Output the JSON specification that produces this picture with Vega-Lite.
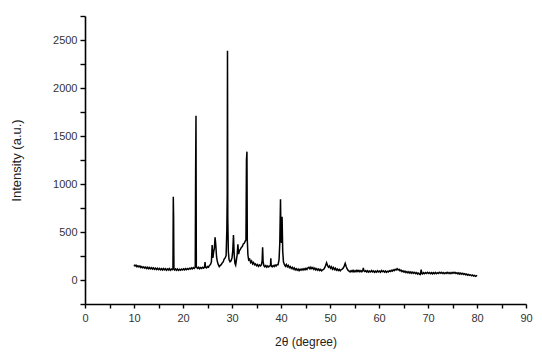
{
  "$schema": "https://vega.github.io/schema/vega-lite/v6.json",
  "width": 441,
  "height": 288,
  "autosize": "none",
  "padding": {"left": 85, "top": 16, "right": 16, "bottom": 53},
  "background": "white",
  "config": {
    "view": {"stroke": null},
    "font": "Liberation Sans",
    "axis": {
      "grid": false,
      "domainColor": "#000000",
      "domainWidth": 1.6,
      "tickColor": "#000000",
      "tickWidth": 1.4,
      "labelColor": "#333333",
      "labelFont": "Liberation Sans",
      "titleFont": "Liberation Sans",
      "titleColor": "#222222",
      "titleFontWeight": "normal"
    }
  },
  "data": {
    "values": [
      {"x":10.0,"y":158},{"x":10.2,"y":146},{"x":10.4,"y":154},{"x":10.6,"y":138},{"x":10.8,"y":148},{"x":11.0,"y":136},{"x":11.2,"y":146},{"x":11.4,"y":130},{"x":11.6,"y":140},{"x":11.8,"y":126},
      {"x":12.0,"y":137},{"x":12.2,"y":124},{"x":12.4,"y":134},{"x":12.6,"y":120},{"x":12.8,"y":132},{"x":13.0,"y":118},{"x":13.2,"y":130},{"x":13.4,"y":116},{"x":13.6,"y":128},{"x":13.8,"y":114},
      {"x":14.0,"y":126},{"x":14.2,"y":112},{"x":14.4,"y":124},{"x":14.6,"y":110},{"x":14.8,"y":122},{"x":15.0,"y":108},{"x":15.2,"y":120},{"x":15.4,"y":106},{"x":15.6,"y":118},{"x":15.8,"y":104},
      {"x":16.0,"y":120},{"x":16.2,"y":106},{"x":16.4,"y":118},{"x":16.6,"y":102},{"x":16.8,"y":116},{"x":17.0,"y":104},{"x":17.2,"y":118},{"x":17.4,"y":102},{"x":17.6,"y":114},{"x":17.8,"y":106},
      {"x":17.95,"y":114},{"x":18.02,"y":868},{"x":18.08,"y":670},{"x":18.15,"y":112},{"x":18.3,"y":104},{"x":18.5,"y":116},{"x":18.7,"y":102},{"x":18.9,"y":114},{"x":19.1,"y":100},{"x":19.3,"y":112},
      {"x":19.5,"y":102},{"x":19.7,"y":114},{"x":19.9,"y":104},{"x":20.1,"y":116},{"x":20.3,"y":106},{"x":20.5,"y":118},{"x":20.7,"y":108},{"x":20.9,"y":120},{"x":21.1,"y":110},{"x":21.3,"y":122},
      {"x":21.5,"y":114},{"x":21.7,"y":126},{"x":21.9,"y":116},{"x":22.1,"y":130},{"x":22.3,"y":120},{"x":22.5,"y":134},{"x":22.58,"y":1167},{"x":22.65,"y":1712},{"x":22.72,"y":142},{"x":22.85,"y":126},
      {"x":23.0,"y":120},{"x":23.2,"y":132},{"x":23.4,"y":118},{"x":23.6,"y":130},{"x":23.8,"y":120},{"x":24.0,"y":132},{"x":24.2,"y":124},{"x":24.4,"y":136},{"x":24.5,"y":188},{"x":24.6,"y":132},
      {"x":24.8,"y":126},{"x":25.0,"y":140},{"x":25.2,"y":134},{"x":25.4,"y":152},{"x":25.6,"y":160},{"x":25.8,"y":190},{"x":25.95,"y":365},{"x":26.1,"y":230},{"x":26.25,"y":290},{"x":26.4,"y":330},
      {"x":26.55,"y":445},{"x":26.7,"y":360},{"x":26.85,"y":240},{"x":27.0,"y":195},{"x":27.2,"y":160},{"x":27.4,"y":140},{"x":27.6,"y":152},{"x":27.8,"y":160},{"x":28.0,"y":178},{"x":28.2,"y":188},
      {"x":28.4,"y":218},{"x":28.6,"y":230},{"x":28.8,"y":255},{"x":28.95,"y":530},{"x":29.03,"y":906},{"x":29.08,"y":2389},{"x":29.14,"y":640},{"x":29.25,"y":300},{"x":29.4,"y":210},{"x":29.6,"y":190},
      {"x":29.8,"y":200},{"x":30.0,"y":230},{"x":30.15,"y":300},{"x":30.3,"y":469},{"x":30.45,"y":260},{"x":30.6,"y":175},{"x":30.75,"y":156},{"x":30.9,"y":210},{"x":31.05,"y":260},{"x":31.2,"y":372},
      {"x":31.35,"y":270},{"x":31.5,"y":305},{"x":31.7,"y":318},{"x":31.9,"y":340},{"x":32.1,"y":348},{"x":32.3,"y":376},{"x":32.5,"y":382},{"x":32.7,"y":404},{"x":32.85,"y":417},{"x":32.95,"y":1250},
      {"x":33.05,"y":1337},{"x":33.12,"y":420},{"x":33.25,"y":260},{"x":33.4,"y":208},{"x":33.6,"y":218},{"x":33.8,"y":182},{"x":34.0,"y":198},{"x":34.2,"y":168},{"x":34.4,"y":182},{"x":34.6,"y":158},
      {"x":34.8,"y":167},{"x":35.0,"y":148},{"x":35.2,"y":160},{"x":35.4,"y":143},{"x":35.6,"y":157},{"x":35.8,"y":146},{"x":36.0,"y":158},{"x":36.15,"y":200},{"x":36.25,"y":340},{"x":36.35,"y":190},
      {"x":36.5,"y":150},{"x":36.7,"y":138},{"x":36.9,"y":150},{"x":37.1,"y":134},{"x":37.3,"y":147},{"x":37.5,"y":136},{"x":37.7,"y":148},{"x":37.85,"y":150},{"x":37.92,"y":226},{"x":38.0,"y":150},
      {"x":38.2,"y":138},{"x":38.4,"y":150},{"x":38.6,"y":140},{"x":38.8,"y":157},{"x":39.0,"y":146},{"x":39.2,"y":160},{"x":39.4,"y":160},{"x":39.6,"y":210},{"x":39.75,"y":380},{"x":39.9,"y":840},
      {"x":40.0,"y":430},{"x":40.1,"y":385},{"x":40.22,"y":660},{"x":40.35,"y":300},{"x":40.5,"y":190},{"x":40.7,"y":160},{"x":40.9,"y":143},{"x":41.1,"y":162},{"x":41.3,"y":138},{"x":41.5,"y":152},
      {"x":41.7,"y":128},{"x":41.9,"y":140},{"x":42.1,"y":120},{"x":42.3,"y":132},{"x":42.5,"y":113},{"x":42.7,"y":126},{"x":42.9,"y":106},{"x":43.1,"y":118},{"x":43.3,"y":102},{"x":43.5,"y":114},
      {"x":43.7,"y":98},{"x":43.9,"y":112},{"x":44.1,"y":102},{"x":44.3,"y":116},{"x":44.5,"y":104},{"x":44.7,"y":118},{"x":44.9,"y":106},{"x":45.1,"y":122},{"x":45.3,"y":110},{"x":45.5,"y":126},
      {"x":45.7,"y":132},{"x":45.9,"y":116},{"x":46.1,"y":134},{"x":46.3,"y":118},{"x":46.5,"y":130},{"x":46.7,"y":110},{"x":46.9,"y":124},{"x":47.1,"y":106},{"x":47.3,"y":118},{"x":47.5,"y":102},
      {"x":47.7,"y":114},{"x":47.9,"y":98},{"x":48.1,"y":110},{"x":48.3,"y":96},{"x":48.5,"y":106},{"x":48.7,"y":110},{"x":48.9,"y":125},{"x":49.1,"y":150},{"x":49.3,"y":180},{"x":49.5,"y":150},
      {"x":49.7,"y":133},{"x":49.9,"y":147},{"x":50.1,"y":123},{"x":50.3,"y":137},{"x":50.5,"y":113},{"x":50.7,"y":130},{"x":50.9,"y":108},{"x":51.1,"y":122},{"x":51.3,"y":102},{"x":51.5,"y":114},
      {"x":51.7,"y":98},{"x":51.9,"y":110},{"x":52.1,"y":96},{"x":52.3,"y":108},{"x":52.5,"y":112},{"x":52.7,"y":125},{"x":52.9,"y":145},{"x":53.1,"y":174},{"x":53.3,"y":140},{"x":53.5,"y":115},
      {"x":53.7,"y":100},{"x":53.9,"y":92},{"x":54.1,"y":84},{"x":54.3,"y":98},{"x":54.5,"y":86},{"x":54.7,"y":100},{"x":54.9,"y":84},{"x":55.1,"y":98},{"x":55.3,"y":86},{"x":55.5,"y":102},
      {"x":55.7,"y":88},{"x":55.9,"y":100},{"x":56.1,"y":86},{"x":56.3,"y":98},{"x":56.5,"y":86},{"x":56.7,"y":100},{"x":56.8,"y":125},{"x":56.9,"y":98},{"x":57.1,"y":88},{"x":57.3,"y":98},
      {"x":57.5,"y":84},{"x":57.7,"y":96},{"x":57.9,"y":82},{"x":58.1,"y":94},{"x":58.3,"y":84},{"x":58.5,"y":98},{"x":58.7,"y":84},{"x":58.9,"y":94},{"x":59.1,"y":80},{"x":59.3,"y":92},
      {"x":59.5,"y":82},{"x":59.7,"y":96},{"x":59.9,"y":84},{"x":60.1,"y":94},{"x":60.3,"y":82},{"x":60.5,"y":98},{"x":60.7,"y":86},{"x":60.9,"y":96},{"x":61.1,"y":82},{"x":61.3,"y":94},
      {"x":61.5,"y":80},{"x":61.7,"y":92},{"x":61.9,"y":84},{"x":62.1,"y":96},{"x":62.3,"y":88},{"x":62.5,"y":100},{"x":62.7,"y":92},{"x":62.9,"y":106},{"x":63.1,"y":98},{"x":63.3,"y":112},
      {"x":63.5,"y":104},{"x":63.7,"y":118},{"x":63.9,"y":104},{"x":64.1,"y":112},{"x":64.3,"y":96},{"x":64.5,"y":104},{"x":64.7,"y":88},{"x":64.9,"y":96},{"x":65.1,"y":82},{"x":65.3,"y":92},
      {"x":65.5,"y":78},{"x":65.7,"y":88},{"x":65.9,"y":74},{"x":66.1,"y":86},{"x":66.3,"y":72},{"x":66.5,"y":84},{"x":66.7,"y":70},{"x":66.9,"y":82},{"x":67.1,"y":70},{"x":67.3,"y":80},
      {"x":67.5,"y":66},{"x":67.7,"y":76},{"x":67.9,"y":62},{"x":68.1,"y":72},{"x":68.3,"y":58},{"x":68.45,"y":56},{"x":68.6,"y":108},{"x":68.75,"y":70},{"x":68.9,"y":64},{"x":69.1,"y":76},
      {"x":69.3,"y":66},{"x":69.5,"y":78},{"x":69.7,"y":68},{"x":69.9,"y":80},{"x":70.1,"y":68},{"x":70.3,"y":78},{"x":70.5,"y":66},{"x":70.7,"y":76},{"x":70.9,"y":64},{"x":71.1,"y":76},
      {"x":71.3,"y":66},{"x":71.5,"y":78},{"x":71.7,"y":66},{"x":71.9,"y":76},{"x":72.1,"y":68},{"x":72.3,"y":80},{"x":72.5,"y":70},{"x":72.7,"y":80},{"x":72.9,"y":68},{"x":73.1,"y":78},
      {"x":73.3,"y":66},{"x":73.5,"y":76},{"x":73.7,"y":68},{"x":73.9,"y":80},{"x":74.1,"y":68},{"x":74.3,"y":78},{"x":74.5,"y":66},{"x":74.7,"y":78},{"x":74.9,"y":68},{"x":75.1,"y":80},
      {"x":75.3,"y":70},{"x":75.5,"y":80},{"x":75.7,"y":68},{"x":75.9,"y":76},{"x":76.1,"y":64},{"x":76.3,"y":74},{"x":76.5,"y":62},{"x":76.7,"y":72},{"x":76.9,"y":60},{"x":77.1,"y":70},
      {"x":77.3,"y":58},{"x":77.5,"y":66},{"x":77.7,"y":54},{"x":77.9,"y":62},{"x":78.1,"y":50},{"x":78.3,"y":58},{"x":78.5,"y":48},{"x":78.7,"y":54},{"x":78.9,"y":44},{"x":79.1,"y":52},
      {"x":79.3,"y":42},{"x":79.5,"y":48},{"x":79.7,"y":38},{"x":79.9,"y":44},{"x":80.0,"y":38}
    ]
  },
  "mark": {"type": "line", "color": "#000000", "strokeWidth": 1.5, "interpolate": "linear"},
  "encoding": {
    "x": {
      "field": "x",
      "type": "quantitative",
      "scale": {"domain": [0, 90], "nice": false, "zero": false},
      "axis": {
        "title": "2θ (degree)",
        "titleFontSize": 12,
        "titleY": 37,
        "titleBaseline": "middle",
        "values": [0,5,10,15,20,25,30,35,40,45,50,55,60,65,70,75,80,85,90],
        "labelExpr": "datum.value % 10 == 0 ? datum.label : ''",
        "labelFontSize": 11,
        "labelPadding": 4,
        "tickSize": 4,
        "labelFlush": false,
        "labelOverlap": false
      }
    },
    "y": {
      "field": "y",
      "type": "quantitative",
      "scale": {"domain": [-250, 2750], "nice": false, "zero": false},
      "axis": {
        "title": "Intensity (a.u.)",
        "titleFontSize": 13,
        "titleX": -69,
        "titleY": 144,
        "titleAngle": -90,
        "titleAlign": "center",
        "titleBaseline": "middle",
        "values": [-250,0,250,500,750,1000,1250,1500,1750,2000,2250,2500,2750],
        "labelExpr": "datum.value % 500 == 0 ? datum.label : ''",
        "labelFontSize": 11,
        "labelPadding": 3,
        "tickSize": 5,
        "format": "d",
        "labelFlush": false,
        "labelOverlap": false
      }
    }
  }
}
